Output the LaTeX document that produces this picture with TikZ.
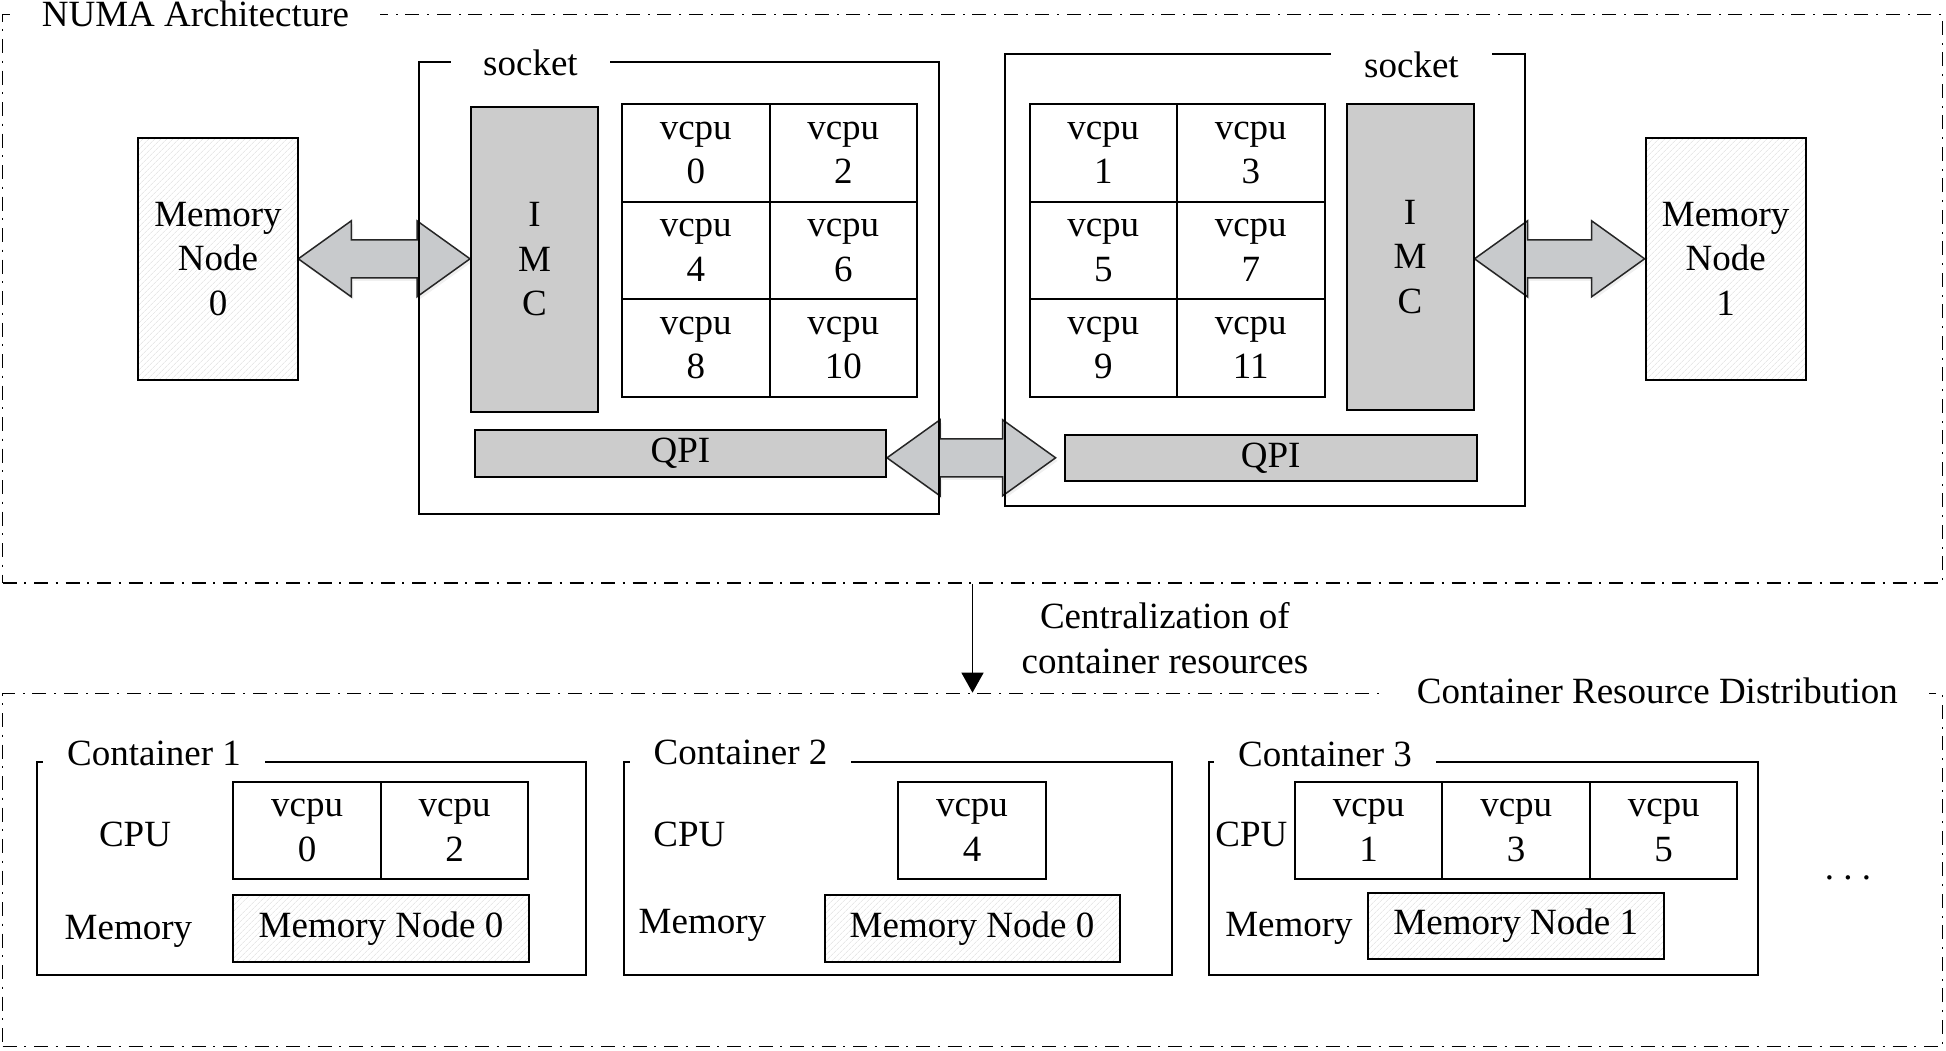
\documentclass[tikz,border=0pt]{standalone}
\usepackage{fontspec}
\setmainfont{Liberation Serif}
\usepackage{tikz}
\usetikzlibrary{shapes, arrows.meta, positioning, calc, shadows, backgrounds, patterns.meta}
\definecolor{blockgray}{HTML}{CCCCCC}
\definecolor{arrowgray}{HTML}{C8CACC}
\definecolor{hatchgray}{HTML}{DCDCDC}

\tikzset{
  zone/.style={draw, line width=1.7pt, dash pattern=on 14pt off 7.5pt on 2pt off 8pt, inner sep=0pt},
  sockframe/.style={draw, line width=2pt, inner sep=0pt},
  ttl/.style={fill=white, inner xsep=#1, inner ysep=0pt, anchor=base west},
  ttl/.default=31pt,
  cell/.style={draw, line width=2pt, outer sep=0pt, inner sep=0pt, minimum width=147.5pt, minimum height=97.5pt, align=center},
  gblock/.style={draw, line width=2pt, fill=blockgray, inner sep=0pt, align=center},
  mem/.style={draw, line width=2pt, inner sep=0pt, align=center, preaction={fill=white},
    pattern={Lines[angle=45, distance=4pt, line width=0.6pt]}, pattern color=hatchgray},
  lbl/.style={inner sep=0pt, anchor=base},
  blockarrow/.style={draw=black!85, line width=1.5pt, fill=arrowgray,
    drop shadow={shadow xshift=2pt, shadow yshift=-3pt, opacity=0.12}}
}

\newcommand{\dblarrow}[2]{%
  \draw[blockarrow] (#1) -- ($(#1)+(53,-38)$) -- ($(#1)+(53,-19)$)
    -- ($(#2)+(-53,-19)$) -- ($(#2)+(-53,-38)$) -- (#2)
    -- ($(#2)+(-53,38)$) -- ($(#2)+(-53,19)$) -- ($(#1)+(53,19)$)
    -- ($(#1)+(53,38)$) -- cycle;}

\begin{document}
\begin{tikzpicture}[x=1pt, y=-1pt, >={Triangle[length=20pt, width=22pt]}, font=\fontsize{37}{44.5}\selectfont]
    \useasboundingbox (0,0) rectangle (1946,1050);

    % NUMA part
    \node (numa) [zone, minimum width=1940pt, minimum height=568.5pt] at (972.5,298.75) {};
    \node (numaT) [ttl] at (10.7,26.7) {NUMA Architecture};

    \node (sockL) [sockframe, minimum width=520pt, minimum height=451.6pt] at (679,288.2) {};
    \node (sockLT) [ttl=32pt] at (451,75) {socket};
    \node (sockR) [sockframe, minimum width=519.8pt, minimum height=452pt] at (1264.6,280) {};
    \node (sockRT) [ttl=33pt] at (1331,77) {socket};

    \node (memL) [mem, minimum width=160pt, minimum height=242.4pt] at (218,258.8) {Memory\\Node\\0};
    \node (memR) [mem, minimum width=160pt, minimum height=242.4pt] at (1725.6,258.8) {Memory\\Node\\1};
    \node (imcL) [gblock, minimum width=127pt, minimum height=305pt] at (534.5,259.3) {I\\M\\C};
    \node (imcR) [gblock, minimum width=127pt, minimum height=306pt] at (1410,257) {I\\M\\C};
    \node (qpiL) [gblock, minimum width=411pt, minimum height=46.7pt] at (680.5,453.3) {QPI};
    \node (qpiR) [gblock, minimum width=412pt, minimum height=45.7pt] at (1270.6,457.8) {QPI};

    \node (c0) [cell] at (695.75,152.75) {vcpu\\0};
    \node (c2) [cell, right=0pt of c0] {vcpu\\2};
    \node (c4) [cell, below=0pt of c0] {vcpu\\4};
    \node (c6) [cell, right=0pt of c4] {vcpu\\6};
    \node (c8) [cell, below=0pt of c4] {vcpu\\8};
    \node (c10) [cell, right=0pt of c8] {vcpu\\10};

    \node (c1) [cell] at (1103.25,152.75) {vcpu\\1};
    \node (c3) [cell, right=0pt of c1] {vcpu\\3};
    \node (c5) [cell, below=0pt of c1] {vcpu\\5};
    \node (c7) [cell, right=0pt of c5] {vcpu\\7};
    \node (c9) [cell, below=0pt of c5] {vcpu\\9};
    \node (c11) [cell, right=0pt of c9] {vcpu\\11};

    \coordinate (lb) at (memL.east -| imcL.west);
    \coordinate (ra) at (memR.west -| imcR.east);
    \coordinate (qa) at (qpiL.east |- qpiR.west);
    \coordinate (qb) at ($(qpiR.west)+(-8,0)$);
    \begin{scope}[on background layer]
        \dblarrow{memL.east}{lb}
        \dblarrow{qa}{qb}
        \dblarrow{ra}{memR.west}
    \end{scope}

    % container part
    \node (crd) [zone, minimum width=1940pt, minimum height=353pt] at (972.5,870) {};
    \node (crdT) [ttl] at (1385.7,703.3) {Container Resource Distribution};
    \draw[->, line width=1.5pt] (numa) -- node (flow) [right=45pt, align=center] {Centralization of\\container resources} (crd);

    \node (ct1) [sockframe, minimum width=548.5pt, minimum height=213.5pt] at (311.25,868.25) {};
    \node (ct1T) [ttl=24pt] at (43,765) {Container 1};
    \node (cpu1) [lbl] at (135,846.7) {CPU};
    \node (k0) [cell] at (307.2,830.4) {vcpu\\0};
    \node (k2) [cell, right=0pt of k0] {vcpu\\2};
    \node (ml1) [lbl] at (128.4,939) {Memory};
    \node (cm1) [mem, minimum width=296pt, minimum height=66.7pt] at (381,928.3) {Memory Node 0};

    \node (ct2) [sockframe, minimum width=548.5pt, minimum height=213.5pt] at (897.75,868.25) {};
    \node (ct2T) [ttl=24pt] at (629.5,764) {Container 2};
    \node (cpu2) [lbl] at (689.4,846.7) {CPU};
    \node (k4) [cell] at (972,830.4) {vcpu\\4};
    \node (ml2) [lbl] at (702.4,933.3) {Memory};
    \node (cm2) [mem, minimum width=295pt, minimum height=66.7pt] at (972,928.3) {Memory Node 0};

    \node (ct3) [sockframe, minimum width=548.5pt, minimum height=213.5pt] at (1483.25,868.25) {};
    \node (ct3T) [ttl=24pt] at (1214,766.7) {Container 3};
    \node (cpu3) [lbl] at (1251.4,846.7) {CPU};
    \node (k1) [cell] at (1368.7,830.4) {vcpu\\1};
    \node (k3) [cell, right=0pt of k1] {vcpu\\3};
    \node (k5) [cell, right=0pt of k3] {vcpu\\5};
    \node (ml3) [lbl] at (1289,936.7) {Memory};
    \node (cm3) [mem, minimum width=295.5pt, minimum height=66.6pt] at (1515.75,926) {Memory Node 1};

    \node (more) [lbl] at (1848,879.5) {.\ .\ .};
\end{tikzpicture}
\end{document}
